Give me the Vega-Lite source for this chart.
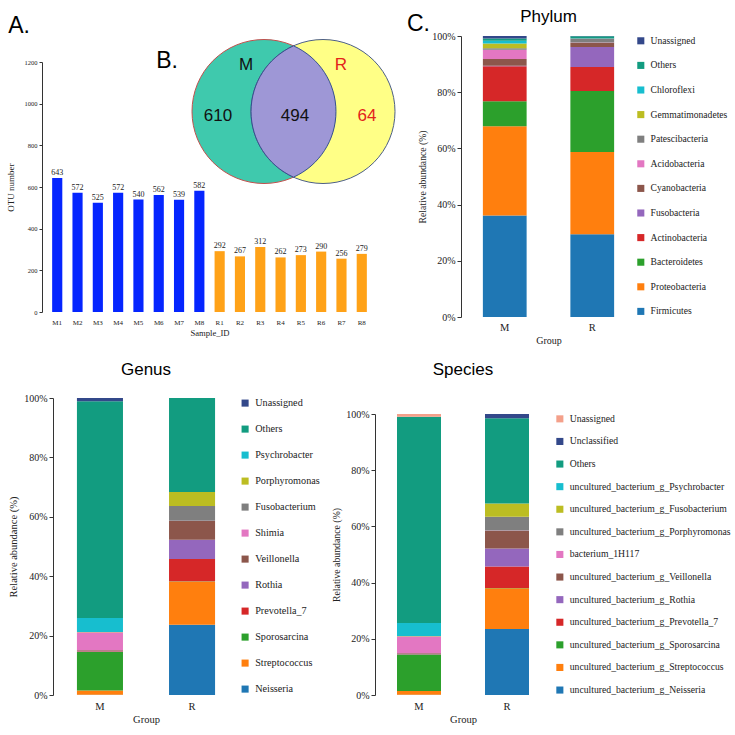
{
  "$schema": "https://vega.github.io/schema/vega-lite/v6.json",
  "background": "white",
  "padding": {"left": 6, "top": 8, "right": 2, "bottom": 2},
  "config": {
    "view": {"stroke": null},
    "axis": {"grid": false, "labelFont": "Liberation Serif", "titleFont": "Liberation Serif", "titleFontWeight": "normal", "domainColor": "#333", "tickColor": "#333", "labelColor": "#222", "titleColor": "#222"},
    "title": {"font": "Liberation Sans", "fontSize": 17, "fontWeight": "normal", "color": "#000"},
    "legend": {"title": null, "symbolType": "square", "symbolSize": 50, "symbolStrokeWidth": 0, "labelFont": "Liberation Serif", "labelColor": "#222", "labelLimit": 260, "labelOffset": 5}
  },
  "resolve": {"scale": {"color": "independent"}, "legend": {"color": "independent"}},
  "spacing": 15,
  "vconcat": [
    {
      "spacing": -13,
      "resolve": {"scale": {"color": "independent"}, "legend": {"color": "independent"}},
      "hconcat": [
        {
          "width": 324,
          "height": 276,
          "resolve": {"scale": {"x": "independent", "y": "independent", "color": "independent", "fill": "independent", "stroke": "independent"}},
          "layer": [
            {
              "data": {"values": [
                {"sample": "M1", "group": "M", "otu": 643},
                {"sample": "M2", "group": "M", "otu": 572},
                {"sample": "M3", "group": "M", "otu": 525},
                {"sample": "M4", "group": "M", "otu": 572},
                {"sample": "M5", "group": "M", "otu": 540},
                {"sample": "M6", "group": "M", "otu": 562},
                {"sample": "M7", "group": "M", "otu": 539},
                {"sample": "M8", "group": "M", "otu": 582},
                {"sample": "R1", "group": "R", "otu": 292},
                {"sample": "R2", "group": "R", "otu": 267},
                {"sample": "R3", "group": "R", "otu": 312},
                {"sample": "R4", "group": "R", "otu": 262},
                {"sample": "R5", "group": "R", "otu": 273},
                {"sample": "R6", "group": "R", "otu": 290},
                {"sample": "R7", "group": "R", "otu": 256},
                {"sample": "R8", "group": "R", "otu": 279}
              ]},
              "encoding": {
                "x": {"field": "sample", "type": "nominal", "sort": null, "scale": {"paddingInner": 0.5, "paddingOuter": 0.5, "range": [-11, 324]},
                      "axis": {"title": "Sample_ID", "labelAngle": 0, "domain": false, "ticks": false, "labelFontSize": 7, "labelPadding": 6, "titleFontSize": 8.6, "titlePadding": 3}},
                "y": {"field": "otu", "type": "quantitative", "scale": {"domain": [0, 1200], "nice": false, "range": [276, 26]},
                      "axis": {"title": "OTU number", "format": "d", "offset": 11, "values": [0, 200, 400, 600, 800, 1000, 1200], "labelFontSize": 6.5, "titleFontSize": 9, "tickSize": 3, "labelPadding": 2, "titlePadding": 9}}
              },
              "layer": [
                {"mark": {"type": "bar"},
                 "encoding": {"color": {"field": "group", "type": "nominal", "scale": {"domain": ["M", "R"], "range": ["#0525ff", "#ffa218"]}, "legend": null}}},
                {"mark": {"type": "text", "dy": -5, "font": "Liberation Serif", "fontSize": 8, "color": "#222"},
                 "encoding": {"text": {"field": "otu", "type": "quantitative"}}}
              ]
            },
            {
              "data": {"values": [
                {"set": "M", "vx": 211, "vy": 75.5},
                {"set": "R", "vx": 270, "vy": 75.5}
              ]},
              "mark": {"type": "point", "shape": "circle", "filled": true, "size": 20736, "opacity": 1, "strokeWidth": 1, "strokeOpacity": 1},
              "encoding": {
                "x": {"field": "vx", "type": "quantitative", "scale": {"domain": [0, 324], "nice": false, "zero": false}, "axis": null},
                "y": {"field": "vy", "type": "quantitative", "scale": {"domain": [0, 276], "nice": false, "zero": false, "reverse": true}, "axis": null},
                "fill": {"field": "set", "type": "nominal", "scale": {"domain": ["M", "R"], "range": ["#3fc9ad", "#ffff86"]}, "legend": null},
                "stroke": {"field": "set", "type": "nominal", "scale": {"domain": ["M", "R"], "range": ["#c0504d", "#4d5f85"]}, "legend": null}
              }
            },
            {
              "data": {"values": [{"set": "MR", "vx": 240.5, "vy": 75.5}]},
              "mark": {"type": "point", "shape": "M0,-0.912A1,1,0,0,1,0,0.912A1,1,0,0,1,0,-0.912Z", "filled": true, "size": 20736, "fill": "#9e97d6", "fillOpacity": 1, "stroke": "#35508f", "strokeWidth": 1, "opacity": 1},
              "encoding": {
                "x": {"field": "vx", "type": "quantitative", "scale": {"domain": [0, 324], "nice": false, "zero": false}, "axis": null},
                "y": {"field": "vy", "type": "quantitative", "scale": {"domain": [0, 276], "nice": false, "zero": false, "reverse": true}, "axis": null}
              }
            },
            {
              "data": {"values": [
                {"lab": "M", "set": "M", "vx": 193, "vy": 29},
                {"lab": "R", "set": "R", "vx": 288, "vy": 29},
                {"lab": "610", "set": "M", "vx": 165, "vy": 80},
                {"lab": "494", "set": "MR", "vx": 242, "vy": 80},
                {"lab": "64", "set": "R", "vx": 314, "vy": 80}
              ]},
              "mark": {"type": "text", "font": "Liberation Sans", "fontSize": 17, "baseline": "middle", "align": "center"},
              "encoding": {
                "x": {"field": "vx", "type": "quantitative", "scale": {"domain": [0, 324], "nice": false, "zero": false}, "axis": null},
                "y": {"field": "vy", "type": "quantitative", "scale": {"domain": [0, 276], "nice": false, "zero": false, "reverse": true}, "axis": null},
                "text": {"field": "lab"},
                "color": {"field": "set", "type": "nominal", "scale": {"domain": ["M", "MR", "R"], "range": ["#111111", "#111111", "#e3231b"]}, "legend": null}
              }
            },
            {
              "data": {"values": [
                {"lab": "A.", "vx": -34, "vy": -10},
                {"lab": "B.", "vx": 114, "vy": 25},
                {"lab": "C.", "vx": 365.5, "vy": -12}
              ]},
              "mark": {"type": "text", "font": "Liberation Sans", "fontSize": 23, "baseline": "middle", "align": "center", "color": "#000"},
              "encoding": {
                "x": {"field": "vx", "type": "quantitative", "scale": {"domain": [0, 324], "nice": false, "zero": false}, "axis": null},
                "y": {"field": "vy", "type": "quantitative", "scale": {"domain": [0, 276], "nice": false, "zero": false, "reverse": true}, "axis": null},
                "text": {"field": "lab"}
              }
            }
          ]
        },
        {
          "width": 175,
          "height": 281,
          "title": {"text": "Phylum", "offset": 5},
          "data": {"values": [
            {"group": "M", "taxon": "Firmicutes", "ord": 1, "value": 36.1},
            {"group": "M", "taxon": "Proteobacteria", "ord": 2, "value": 31.8},
            {"group": "M", "taxon": "Bacteroidetes", "ord": 3, "value": 8.9},
            {"group": "M", "taxon": "Actinobacteria", "ord": 4, "value": 12.4},
            {"group": "M", "taxon": "Fusobacteria", "ord": 5, "value": 0.2},
            {"group": "M", "taxon": "Cyanobacteria", "ord": 6, "value": 2.4},
            {"group": "M", "taxon": "Acidobacteria", "ord": 7, "value": 3.3},
            {"group": "M", "taxon": "Patescibacteria", "ord": 8, "value": 0.5},
            {"group": "M", "taxon": "Gemmatimonadetes", "ord": 9, "value": 1.7},
            {"group": "M", "taxon": "Chloroflexi", "ord": 10, "value": 1.0},
            {"group": "M", "taxon": "Others", "ord": 11, "value": 0.8},
            {"group": "M", "taxon": "Unassigned", "ord": 12, "value": 0.9},
            {"group": "R", "taxon": "Firmicutes", "ord": 1, "value": 29.5},
            {"group": "R", "taxon": "Proteobacteria", "ord": 2, "value": 29.3},
            {"group": "R", "taxon": "Bacteroidetes", "ord": 3, "value": 21.7},
            {"group": "R", "taxon": "Actinobacteria", "ord": 4, "value": 8.6},
            {"group": "R", "taxon": "Fusobacteria", "ord": 5, "value": 7.1},
            {"group": "R", "taxon": "Cyanobacteria", "ord": 6, "value": 1.5},
            {"group": "R", "taxon": "Acidobacteria", "ord": 7, "value": 0.1},
            {"group": "R", "taxon": "Patescibacteria", "ord": 8, "value": 1.4},
            {"group": "R", "taxon": "Gemmatimonadetes", "ord": 9, "value": 0.05},
            {"group": "R", "taxon": "Chloroflexi", "ord": 10, "value": 0.05},
            {"group": "R", "taxon": "Others", "ord": 11, "value": 0.7},
            {"group": "R", "taxon": "Unassigned", "ord": 12, "value": 0.1}
          ]},
          "mark": {"type": "bar"},
          "encoding": {
            "x": {"field": "group", "type": "nominal", "scale": {"paddingInner": 0.5, "paddingOuter": 0.25},
                  "axis": {"title": "Group", "labelAngle": 0, "domain": false, "ticks": false, "labelFontSize": 10.5, "labelPadding": 5, "titleFontSize": 10, "titlePadding": 3}},
            "y": {"field": "value", "type": "quantitative", "stack": "normalize",
                  "axis": {"title": "Relative abundance (%)", "format": ".0%", "values": [0, 0.2, 0.4, 0.6, 0.8, 1], "labelFontSize": 10, "titleFontSize": 9.7, "tickSize": 4, "labelPadding": 2, "titlePadding": 4}},
            "order": {"field": "ord", "type": "quantitative", "sort": "ascending"},
            "color": {"field": "taxon", "type": "nominal",
                      "scale": {"domain": ["Unassigned", "Others", "Chloroflexi", "Gemmatimonadetes", "Patescibacteria", "Acidobacteria", "Cyanobacteria", "Fusobacteria", "Actinobacteria", "Bacteroidetes", "Proteobacteria", "Firmicutes"],
                                "range": ["#33488a", "#129c80", "#17becf", "#bcbd22", "#7f7f7f", "#e377c2", "#8c564b", "#9467bd", "#d62728", "#2ca02c", "#ff7f0e", "#1f77b4"]},
                      "legend": {"labelFont": "Liberation Serif", "labelFontSize": 9.6, "rowPadding": 13.6, "offset": 0}}
          }
        }
      ]
    },
    {
      "spacing": 11,
      "resolve": {"scale": {"color": "independent"}, "legend": {"color": "independent"}},
      "hconcat": [
        {
          "width": 186,
          "height": 297,
          "title": {"text": "Genus", "offset": 14},
          "data": {"values": [
            {"group": "M", "taxon": "Neisseria", "ord": 1, "value": 0.1},
            {"group": "M", "taxon": "Streptococcus", "ord": 2, "value": 1.4},
            {"group": "M", "taxon": "Sporosarcina", "ord": 3, "value": 13.1},
            {"group": "M", "taxon": "Prevotella_7", "ord": 4, "value": 0.1},
            {"group": "M", "taxon": "Rothia", "ord": 5, "value": 0.1},
            {"group": "M", "taxon": "Veillonella", "ord": 6, "value": 0.3},
            {"group": "M", "taxon": "Shimia", "ord": 7, "value": 6.0},
            {"group": "M", "taxon": "Fusobacterium", "ord": 8, "value": 0.05},
            {"group": "M", "taxon": "Porphyromonas", "ord": 9, "value": 0.05},
            {"group": "M", "taxon": "Psychrobacter", "ord": 10, "value": 4.7},
            {"group": "M", "taxon": "Others", "ord": 11, "value": 73.0},
            {"group": "M", "taxon": "Unassigned", "ord": 12, "value": 1.1},
            {"group": "R", "taxon": "Neisseria", "ord": 1, "value": 23.6},
            {"group": "R", "taxon": "Streptococcus", "ord": 2, "value": 14.6},
            {"group": "R", "taxon": "Sporosarcina", "ord": 3, "value": 0.05},
            {"group": "R", "taxon": "Prevotella_7", "ord": 4, "value": 7.5},
            {"group": "R", "taxon": "Rothia", "ord": 5, "value": 6.5},
            {"group": "R", "taxon": "Veillonella", "ord": 6, "value": 6.3},
            {"group": "R", "taxon": "Shimia", "ord": 7, "value": 0.05},
            {"group": "R", "taxon": "Fusobacterium", "ord": 8, "value": 5.0},
            {"group": "R", "taxon": "Porphyromonas", "ord": 9, "value": 4.7},
            {"group": "R", "taxon": "Psychrobacter", "ord": 10, "value": 0.05},
            {"group": "R", "taxon": "Others", "ord": 11, "value": 31.6},
            {"group": "R", "taxon": "Unassigned", "ord": 12, "value": 0}
          ]},
          "mark": {"type": "bar"},
          "encoding": {
            "x": {"field": "group", "type": "nominal", "scale": {"paddingInner": 0.5, "paddingOuter": 0.26},
                  "axis": {"title": "Group", "labelAngle": 0, "domain": false, "ticks": false, "labelFontSize": 10.5, "labelPadding": 6, "titleFontSize": 10.5, "titlePadding": 3}},
            "y": {"field": "value", "type": "quantitative", "stack": "normalize",
                  "axis": {"title": "Relative abundance (%)", "format": ".0%", "values": [0, 0.2, 0.4, 0.6, 0.8, 1], "labelFontSize": 10, "titleFontSize": 10.5, "tickSize": 4, "labelPadding": 2, "titlePadding": 5}},
            "order": {"field": "ord", "type": "quantitative", "sort": "ascending"},
            "color": {"field": "taxon", "type": "nominal",
                      "scale": {"domain": ["Unassigned", "Others", "Psychrobacter", "Porphyromonas", "Fusobacterium", "Shimia", "Veillonella", "Rothia", "Prevotella_7", "Sporosarcina", "Streptococcus", "Neisseria"],
                                "range": ["#33488a", "#129c80", "#17becf", "#bcbd22", "#7f7f7f", "#e377c2", "#8c564b", "#9467bd", "#d62728", "#2ca02c", "#ff7f0e", "#1f77b4"]},
                      "legend": {"labelFont": "Liberation Serif", "labelFontSize": 10.2, "rowPadding": 15, "offset": 1}}
          }
        },
        {
          "width": 176,
          "height": 297,
          "title": {"text": "Species", "offset": 19},
          "data": {"values": [
            {"group": "M", "taxon": "uncultured_bacterium_g_Neisseria", "ord": 1, "value": 0.1},
            {"group": "M", "taxon": "uncultured_bacterium_g_Streptococcus", "ord": 2, "value": 1.3},
            {"group": "M", "taxon": "uncultured_bacterium_g_Sporosarcina", "ord": 3, "value": 13.0},
            {"group": "M", "taxon": "uncultured_bacterium_g_Prevotella_7", "ord": 4, "value": 0.1},
            {"group": "M", "taxon": "uncultured_bacterium_g_Rothia", "ord": 5, "value": 0.1},
            {"group": "M", "taxon": "uncultured_bacterium_g_Veillonella", "ord": 6, "value": 0.3},
            {"group": "M", "taxon": "bacterium_1H117", "ord": 7, "value": 6.0},
            {"group": "M", "taxon": "uncultured_bacterium_g_Porphyromonas", "ord": 8, "value": 0.05},
            {"group": "M", "taxon": "uncultured_bacterium_g_Fusobacterium", "ord": 9, "value": 0.05},
            {"group": "M", "taxon": "uncultured_bacterium_g_Psychrobacter", "ord": 10, "value": 4.7},
            {"group": "M", "taxon": "Others", "ord": 11, "value": 73.5},
            {"group": "M", "taxon": "Unclassified", "ord": 12, "value": 0},
            {"group": "M", "taxon": "Unassigned", "ord": 13, "value": 1.0},
            {"group": "R", "taxon": "uncultured_bacterium_g_Neisseria", "ord": 1, "value": 23.5},
            {"group": "R", "taxon": "uncultured_bacterium_g_Streptococcus", "ord": 2, "value": 14.5},
            {"group": "R", "taxon": "uncultured_bacterium_g_Sporosarcina", "ord": 3, "value": 0.05},
            {"group": "R", "taxon": "uncultured_bacterium_g_Prevotella_7", "ord": 4, "value": 7.7},
            {"group": "R", "taxon": "uncultured_bacterium_g_Rothia", "ord": 5, "value": 6.4},
            {"group": "R", "taxon": "uncultured_bacterium_g_Veillonella", "ord": 6, "value": 6.3},
            {"group": "R", "taxon": "bacterium_1H117", "ord": 7, "value": 0.05},
            {"group": "R", "taxon": "uncultured_bacterium_g_Porphyromonas", "ord": 8, "value": 4.9},
            {"group": "R", "taxon": "uncultured_bacterium_g_Fusobacterium", "ord": 9, "value": 4.7},
            {"group": "R", "taxon": "uncultured_bacterium_g_Psychrobacter", "ord": 10, "value": 0.05},
            {"group": "R", "taxon": "Others", "ord": 11, "value": 30.3},
            {"group": "R", "taxon": "Unclassified", "ord": 12, "value": 1.5},
            {"group": "R", "taxon": "Unassigned", "ord": 13, "value": 0}
          ]},
          "mark": {"type": "bar"},
          "encoding": {
            "x": {"field": "group", "type": "nominal", "scale": {"paddingInner": 0.5, "paddingOuter": 0.25},
                  "axis": {"title": "Group", "labelAngle": 0, "domain": false, "ticks": false, "labelFontSize": 10.5, "labelPadding": 6, "titleFontSize": 10.5, "titlePadding": 3}},
            "y": {"field": "value", "type": "quantitative", "stack": "normalize", "scale": {"range": [297, 16]},
                  "axis": {"title": "Relative abundance (%)", "format": ".0%", "values": [0, 0.2, 0.4, 0.6, 0.8, 1], "labelFontSize": 10, "titleFontSize": 9.8, "tickSize": 4, "labelPadding": 2, "titlePadding": 4}},
            "order": {"field": "ord", "type": "quantitative", "sort": "ascending"},
            "color": {"field": "taxon", "type": "nominal",
                      "scale": {"domain": ["Unassigned", "Unclassified", "Others", "uncultured_bacterium_g_Psychrobacter", "uncultured_bacterium_g_Fusobacterium", "uncultured_bacterium_g_Porphyromonas", "bacterium_1H117", "uncultured_bacterium_g_Veillonella", "uncultured_bacterium_g_Rothia", "uncultured_bacterium_g_Prevotella_7", "uncultured_bacterium_g_Sporosarcina", "uncultured_bacterium_g_Streptococcus", "uncultured_bacterium_g_Neisseria"],
                                "range": ["#f4a08a", "#33488a", "#129c80", "#17becf", "#bcbd22", "#7f7f7f", "#e377c2", "#8c564b", "#9467bd", "#d62728", "#2ca02c", "#ff7f0e", "#1f77b4"]},
                      "legend": {"labelFont": "Liberation Serif", "labelFontSize": 9.7, "rowPadding": 11.6, "orient": "none", "legendX": 180, "legendY": 16}}
          }
        }
      ]
    }
  ]
}
